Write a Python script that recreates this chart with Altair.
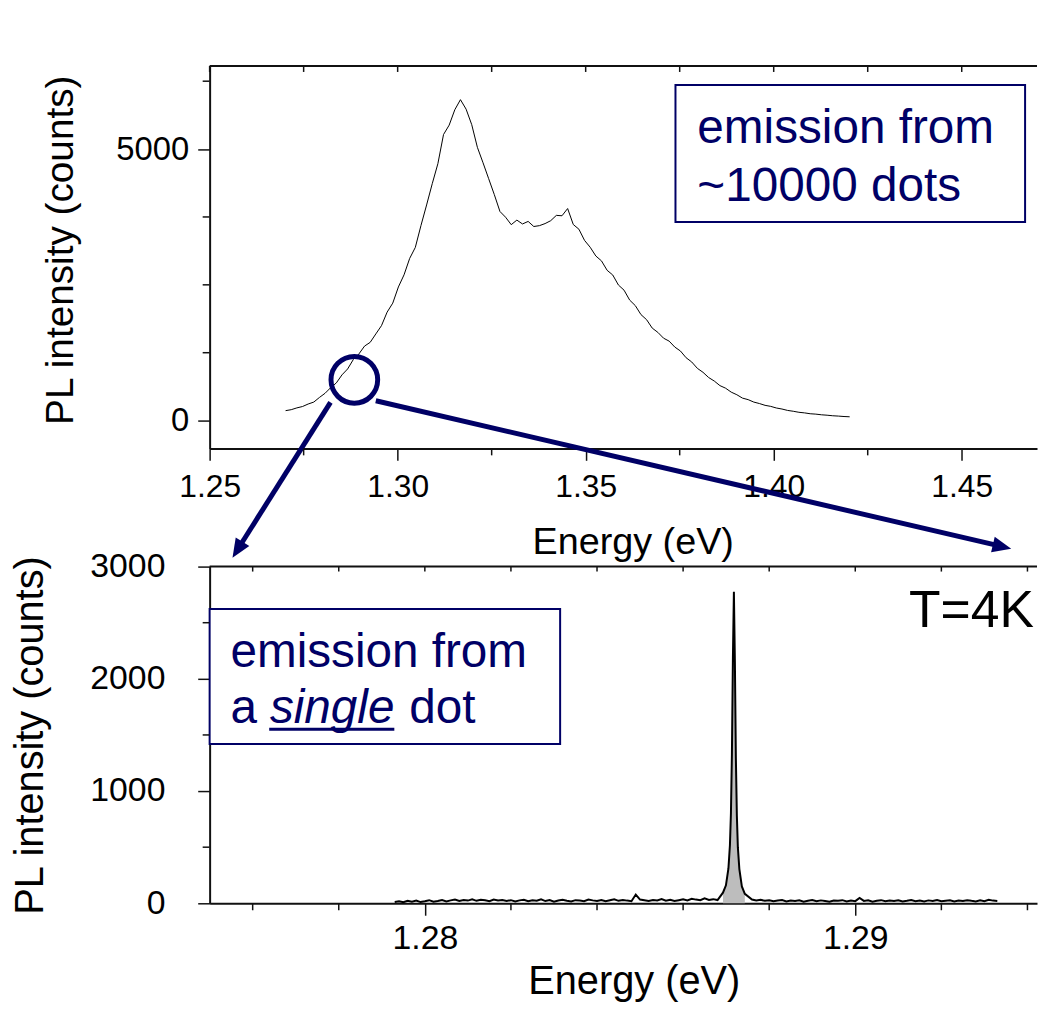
import altair as alt
import pandas as pd

FONT = "Liberation Sans"
NAVY = "#000066"
INK = "#111111"

# ---------------- ensemble spectrum (top panel) ----------------
ens_energy = [
    1.2702, 1.2717, 1.2732, 1.2747, 1.2762, 1.2777, 1.2792, 1.2807, 1.2822, 1.2837,
    1.2852, 1.2867, 1.2882, 1.2897, 1.2912, 1.2927, 1.2942, 1.2957, 1.2972, 1.2987,
    1.3002, 1.3017, 1.3032, 1.3047, 1.3062, 1.3077, 1.3092, 1.3107, 1.3122, 1.3137,
    1.3152, 1.3167, 1.3182, 1.3197, 1.3212, 1.3227, 1.3242, 1.3257, 1.3272, 1.3287,
    1.3302, 1.3317, 1.3332, 1.3347, 1.3362, 1.3377, 1.3392, 1.3407, 1.3422, 1.3437,
    1.3452, 1.3467, 1.3482, 1.3497, 1.3512, 1.3527, 1.3542, 1.3557, 1.3572, 1.3587,
    1.3602, 1.3617, 1.3632, 1.3647, 1.3662, 1.3677, 1.3692, 1.3707, 1.3722, 1.3737,
    1.3752, 1.3767, 1.3782, 1.3797, 1.3812, 1.3827, 1.3842, 1.3857, 1.3872, 1.3887,
    1.3902, 1.3917, 1.3932, 1.3947, 1.3962, 1.3977, 1.3992, 1.4007, 1.4022, 1.4037,
    1.4052, 1.4067, 1.4082, 1.4097, 1.4112, 1.4127, 1.4142, 1.4157, 1.4172, 1.4187,
    1.4202,
]
ens_counts = [
    183, 201, 234, 259, 305, 341, 426, 503, 607, 694,
    842, 951, 1123, 1228, 1372, 1441, 1596, 1748, 1997, 2163,
    2461, 2684, 2987, 3189, 3592, 3971, 4362, 4731, 5268, 5441,
    5724, 5910, 5735, 5449, 5032, 4748, 4455, 4162, 3851, 3745,
    3608, 3692, 3621, 3668, 3574, 3590, 3628, 3681, 3779, 3772,
    3905, 3611, 3524, 3318, 3192, 3031, 2941, 2768, 2681, 2497,
    2402, 2219, 2117, 1952, 1858, 1703, 1624, 1518, 1463, 1354,
    1281, 1158, 1079, 962, 889, 793, 728, 644, 597, 524,
    476, 414, 386, 341, 314, 281, 262, 232, 213, 187,
    172, 153, 142, 126, 119, 107, 99, 89, 83, 75,
    70,
]

top_x_major = [1.25, 1.30, 1.35, 1.40, 1.45]
top_x_minor = [1.275, 1.325, 1.375, 1.425]
top_y_major = [0, 5000]
top_y_minor = [1250, 2500, 3750, 6250]
top_x_domain = [1.25, 1.47002]
top_y_domain = [-512, 6530]

# annotations of the top panel, in data units
top_box_E, top_box_E2 = [1.37388], [1.46685]
top_box_I, top_box_I2 = [6182], [3658]
top_text = ["emission from", "~10000 dots"]
top_text_E = [1.3797, 1.3797]
top_text_I = [5103, 4042]
circle_E, circle_I = [1.28848], [750]
arrow_start_E = [1.28214, 1.29419]
arrow_start_I = [335, 366]
arrow_end_E = [1.25748, 1.46059]
arrow_end_I = [-2369, -2317]
arrow_tip_E = [1.25608, 1.46316]
arrow_tip_I = [-2524, -2360]
arrow_angle = [212.3, 103.1]

# ---------------- single dot spectrum (bottom panel) ----------------
dot_left_energy = [
    1.2793, 1.2794, 1.2795, 1.2796, 1.2797, 1.2798, 1.2799, 1.2800, 1.2801, 1.2802,
    1.2803, 1.2804, 1.2805, 1.2806, 1.2807, 1.2808, 1.2809, 1.2810, 1.2811, 1.2812,
    1.2813, 1.2814, 1.2815, 1.2816, 1.2817, 1.2818, 1.2819, 1.2820, 1.2821, 1.2822,
    1.2823, 1.2824, 1.2825, 1.2826, 1.2827, 1.2828, 1.2829, 1.2830, 1.2831, 1.2832,
    1.2833, 1.2834, 1.2835, 1.2836, 1.2837, 1.2838, 1.2839, 1.2840, 1.2841, 1.2842,
    1.2843, 1.2844, 1.2845, 1.2846, 1.2847, 1.2848, 1.2849, 1.2850, 1.2851, 1.2852,
    1.2853, 1.2854, 1.2855, 1.2856, 1.2857, 1.2858, 1.2859, 1.2860, 1.2861, 1.2862,
    1.2863, 1.2864, 1.2865, 1.2866, 1.2867, 1.2868,
]
dot_left_counts = [
    12, 18, 9, 22, 15, 25, 11, 19, 28, 14,
    21, 30, 17, 26, 33, 20, 29, 24, 35, 22,
    31, 27, 19, 34, 25, 30, 21, 28, 16, 26,
    32, 18, 27, 23, 36, 20, 29, 14, 25, 31,
    22, 17, 28, 24, 19, 33, 26, 21, 30, 18,
    27, 35, 22, 30, 24, 19, 78, 33, 27, 21,
    29, 25, 38, 23, 31, 20, 28, 36, 26, 41,
    33, 27, 44, 30, 37, 29,
]
dot_peak_energy = [
    1.286926, 1.286995, 1.287053, 1.287088, 1.287111, 1.287134, 1.287157, 1.287180,
    1.287203, 1.287226, 1.287249, 1.287272, 1.287307, 1.287365, 1.287434,
]
dot_peak_counts = [95, 160, 310, 520, 800, 1330, 2180, 2775, 2150, 1290, 780, 500, 305, 150, 85]
dot_right_energy = [
    1.2876, 1.2877, 1.2878, 1.2879, 1.2880, 1.2881, 1.2882, 1.2883, 1.2884, 1.2885,
    1.2886, 1.2887, 1.2888, 1.2889, 1.2890, 1.2891, 1.2892, 1.2893, 1.2894, 1.2895,
    1.2896, 1.2897, 1.2898, 1.2899, 1.2900, 1.2901, 1.2902, 1.2903, 1.2904, 1.2905,
    1.2906, 1.2907, 1.2908, 1.2909, 1.2910, 1.2911, 1.2912, 1.2913, 1.2914, 1.2915,
    1.2916, 1.2917, 1.2918, 1.2919, 1.2920, 1.2921, 1.2922, 1.2923, 1.2924, 1.2925,
    1.2926, 1.2927, 1.2928, 1.2929, 1.2930, 1.2931, 1.2932, 1.2933,
]
dot_right_counts = [
    34, 26, 31, 22, 28, 19, 25, 30, 17, 24,
    21, 27, 15, 23, 29, 18, 26, 20, 14, 25,
    22, 28, 16, 24, 19, 47, 21, 26, 15, 23,
    28, 18, 25, 20, 27, 16, 22, 29, 19, 24,
    17, 26, 21, 30, 18, 23, 27, 16, 25, 20,
    28, 22, 17, 26, 19, 31, 24, 21,
]

bot_x_major = [1.28, 1.29]
bot_x_minor = [1.276, 1.278, 1.282, 1.284, 1.286, 1.288, 1.292, 1.294]
bot_y_major = [0, 1000, 2000, 3000]
bot_y_minor = [500, 1500, 2500]
bot_x_domain = [1.275, 1.294222]
bot_y_domain = [0, 3000]

# annotations of the bottom panel, in data units
bot_box_E, bot_box_E2 = [1.275], [1.283143]
bot_box_I, bot_box_I2 = [2622], [1419]
bot_text = ["emission from", "a", "dot"]
bot_text_E = [1.275484, 1.275484, 1.279637]
bot_text_I = [2109, 1604, 1604]
bot_italic_text, bot_italic_E, bot_italic_I = ["single"], [1.276400], [1604]
underline_E, underline_E2, underline_I = [1.276384], [1.279291], [1551]
temp_text, temp_E, temp_I = ["T=4K"], [1.29415], [2463]

# ---------------- layout ----------------
W = 833
H1 = 385
H2 = 339
TX = "Energy (eV)"
TY = "PL intensity (counts)"


def make_axis(**kw):
    base = dict(labelFont=FONT, titleFont=FONT, labelColor="black", titleColor="black",
                titleFontWeight="normal", domainColor=INK, domainWidth=2, tickColor=INK,
                tickWidth=1.5, grid=False, labelFlush=False, labelOverlap=False)
    base.update(kw)
    return alt.Axis(**base)


def panel(x_domain, y_domain, x_axis, y_axis, height, layers_fn):
    xs = alt.Scale(domain=x_domain, nice=False, zero=False)
    ys = alt.Scale(domain=y_domain, nice=False, zero=False)

    def X(f):
        return alt.X(f"{f}:Q", scale=xs, axis=x_axis, title=TX)

    def Y(f):
        return alt.Y(f"{f}:Q", scale=ys, axis=y_axis, title=TY)

    layers = layers_fn(X, Y)
    return alt.layer(*layers).properties(width=W, height=height)


def frame_layers(X, Y, height, x_minor, x_all, y_minor, minor_len, top_len):
    return [
        alt.Chart(pd.DataFrame({"E": x_minor})).mark_rule(color=INK, strokeWidth=1.5).encode(
            x=X("E"), y=alt.value(height), y2=alt.value(height + minor_len)),
        alt.Chart(pd.DataFrame({"I": y_minor})).mark_rule(color=INK, strokeWidth=1.5).encode(
            y=Y("I"), x=alt.value(0), x2=alt.value(-minor_len)),
        alt.Chart(pd.DataFrame({"E": x_all})).mark_rule(color=INK, strokeWidth=1.5).encode(
            x=X("E"), y=alt.value(0), y2=alt.value(top_len)),
        alt.Chart(pd.DataFrame({"k": [0]})).mark_rule(color=INK, strokeWidth=2).encode(
            x=alt.value(0), x2=alt.value(W), y=alt.value(0)),
    ]


def top_layers(X, Y):
    spec = alt.Chart(pd.DataFrame({"E": ens_energy, "I": ens_counts})).mark_line(
        color="black", strokeWidth=1).encode(x=X("E"), y=Y("I"))
    box = alt.Chart(pd.DataFrame({"E": top_box_E, "E2": top_box_E2, "I": top_box_I, "I2": top_box_I2})
                    ).mark_rect(fill="white", stroke=NAVY, strokeWidth=2).encode(
        x=X("E"), x2="E2:Q", y=Y("I"), y2="I2:Q")
    txt = alt.Chart(pd.DataFrame({"E": top_text_E, "I": top_text_I, "t": top_text})).mark_text(
        align="left", baseline="alphabetic", font=FONT, fontSize=48, color=NAVY).encode(
        x=X("E"), y=Y("I"), text="t:N")
    circ = alt.Chart(pd.DataFrame({"E": circle_E, "I": circle_I})).mark_point(
        shape="circle", size=2209, filled=False, strokeWidth=5, color=NAVY, opacity=1).encode(
        x=X("E"), y=Y("I"))
    arrows = alt.Chart(pd.DataFrame({"E": arrow_start_E, "I": arrow_start_I,
                                     "E2": arrow_end_E, "I2": arrow_end_I})).mark_rule(
        color=NAVY, strokeWidth=5).encode(x=X("E"), y=Y("I"), x2="E2:Q", y2="I2:Q")
    heads = alt.Chart(pd.DataFrame({"E": arrow_tip_E, "I": arrow_tip_I, "A": arrow_angle})).mark_point(
        shape="M0,0L-0.9,2.1L0.9,2.1Z", size=324, filled=True, color=NAVY, opacity=1,
        strokeWidth=0).encode(x=X("E"), y=Y("I"), angle=alt.Angle("A:Q", scale=None))
    frame = frame_layers(X, Y, H1, top_x_minor, top_x_major + top_x_minor, top_y_minor, 7, 6)
    return [spec, box, txt, circ, arrows, heads] + frame


def bottom_layers(X, Y):
    all_E = dot_left_energy + dot_peak_energy + dot_right_energy
    all_I = dot_left_counts + dot_peak_counts + dot_right_counts
    area = alt.Chart(pd.DataFrame({"E": dot_peak_energy, "I": dot_peak_counts})).mark_area(
        color="#bdbdbd").encode(x=X("E"), y=Y("I"))
    line = alt.Chart(pd.DataFrame({"E": all_E, "I": all_I})).mark_line(
        color="black", strokeWidth=2).encode(x=X("E"), y=Y("I"))
    box = alt.Chart(pd.DataFrame({"E": bot_box_E, "E2": bot_box_E2, "I": bot_box_I, "I2": bot_box_I2})
                    ).mark_rect(fill="white", stroke=NAVY, strokeWidth=2).encode(
        x=X("E"), x2="E2:Q", y=Y("I"), y2="I2:Q")
    txt = alt.Chart(pd.DataFrame({"E": bot_text_E, "I": bot_text_I, "t": bot_text})).mark_text(
        align="left", baseline="alphabetic", font=FONT, fontSize=48, color=NAVY).encode(
        x=X("E"), y=Y("I"), text="t:N")
    itxt = alt.Chart(pd.DataFrame({"E": bot_italic_E, "I": bot_italic_I, "t": bot_italic_text})).mark_text(
        align="left", baseline="alphabetic", font=FONT, fontSize=48, fontStyle="italic",
        color=NAVY).encode(x=X("E"), y=Y("I"), text="t:N")
    uline = alt.Chart(pd.DataFrame({"E": underline_E, "E2": underline_E2, "I": underline_I})).mark_rule(
        color=NAVY, strokeWidth=3).encode(x=X("E"), x2="E2:Q", y=Y("I"))
    temp = alt.Chart(pd.DataFrame({"E": temp_E, "I": temp_I, "t": temp_text})).mark_text(
        align="right", baseline="alphabetic", font=FONT, fontSize=52, color="black").encode(
        x=X("E"), y=Y("I"), text="t:N")
    frame = frame_layers(X, Y, H2, bot_x_minor, bot_x_major + bot_x_minor, bot_y_minor, 7, 5)
    return [box, txt, itxt, uline, temp, area, line] + frame


top_x_axis = make_axis(values=top_x_major, format=".2f", tickSize=12, labelFontSize=32,
                       labelPadding=11, titleFontSize=38, titlePadding=22, titleX=426)
top_y_axis = make_axis(values=top_y_major, format="d", tickSize=12, labelFontSize=33,
                       labelPadding=9, titleFontSize=39, titlePadding=36, titleY=185)
bot_x_axis = make_axis(values=bot_x_major, format=".2f", tickSize=12, labelFontSize=34,
                       labelPadding=7, titleFontSize=40, titlePadding=6, titleX=427)
bot_y_axis = make_axis(values=bot_y_major, format="d", tickSize=12, labelFontSize=34,
                       labelPadding=33, titleFontSize=40, titlePadding=40)

top = panel(top_x_domain, top_y_domain, top_x_axis, top_y_axis, H1, top_layers)
bottom = panel(bot_x_domain, bot_y_domain, bot_x_axis, bot_y_axis, H2, bottom_layers)

chart = alt.vconcat(top, bottom, spacing=119, bounds="flush").properties(
    padding={"left": 2, "right": 0, "top": 54, "bottom": 0},
    background="white",
).configure_view(stroke=None)

chart.save("out.html", embed_options={"renderer": "svg", "actions": False})
